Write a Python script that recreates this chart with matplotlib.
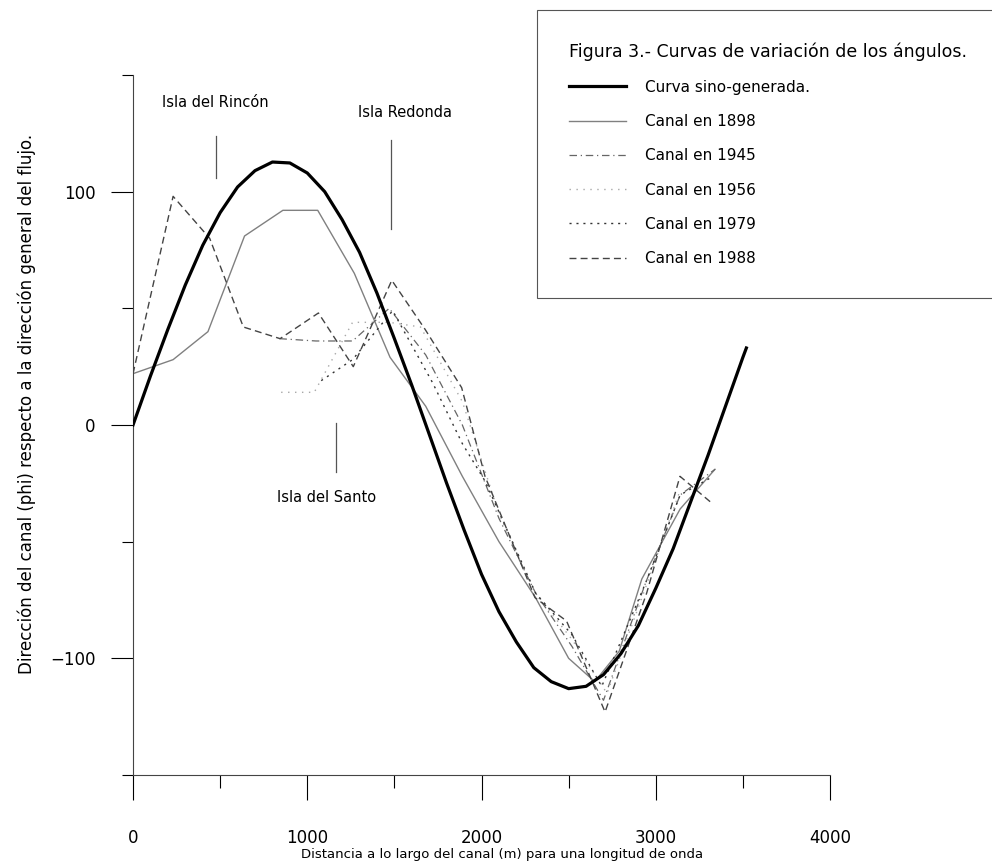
"""Figura 3 - Curvas de variación de los ángulos del canal"""
import matplotlib
matplotlib.use('Agg')
import matplotlib.pyplot as plt
from matplotlib.ticker import MultipleLocator

plt.rcParams['font.family'] = ['DejaVu Sans']

x_seno = [0, 100, 200, 300, 400, 500, 600, 700, 800, 900, 1000, 1100, 1200,
          1300, 1400, 1500, 1600, 1700, 1800, 1900, 2000, 2100, 2200, 2300,
          2400, 2500, 2600, 2700, 2800, 2900, 3000, 3100, 3200, 3300, 3400,
          3500, 3520]
y_seno = [0, 21, 41, 60, 77, 91, 102, 109, 112.7, 112.3, 108, 100, 88, 74,
          56.5, 37, 17, -4, -25, -45, -64, -80, -93, -104, -110, -113, -112,
          -107, -98, -86, -70, -53, -33, -13, 8, 29, 33]

# trazados del canal
x_1898 = [0, 230, 430, 640, 860, 1060, 1270, 1475, 1680, 1890, 2100, 2310,
          2500, 2650, 2790, 2920, 3140, 3340]
y_1898 = [22, 28, 40, 81, 92, 92, 65, 29, 8, -22, -50, -74, -100, -110, -97,
          -66, -36, -19]

x_1945 = [840, 1050, 1260, 1470, 1680, 1890, 2100, 2310, 2520, 2700, 2940,
          3140, 3340]
y_1945 = [37, 36, 36, 50, 30, 0, -40, -72, -95, -118, -68, -30, -19]

x_1956 = [850, 1040, 1260, 1470, 1650, 1890, 2100, 2310, 2520, 2720, 2940,
          3140]
y_1956 = [14, 14, 44, 44, 42, 10, -38, -72, -92, -115, -70, -28]

x_1979 = [1080, 1260, 1490, 1720, 1890, 2020, 2310, 2520, 2690, 2940, 3140,
          3330]
y_1979 = [19, 28, 49, 18, -8, -24, -72, -90, -112, -68, -30, -22]

x_1988 = [0, 230, 440, 633, 844, 1064, 1264, 1485, 1676, 1886, 2020, 2307,
          2488, 2709, 2948, 3139, 3330]
y_1988 = [22, 98, 80, 42, 37, 48, 25, 62, 41, 16, -22, -74, -84, -123, -72,
          -22, -34]

# islas: (texto, x texto, y texto, x marca, y0 marca, y1 marca)
islas = [
    ('Isla del Rincón', 470, 138, 478, 106, 124),
    ('Isla Redonda', 1560, 134, 1478, 84, 122),
    ('Isla del Santo', 1110, -31, 1165, -20, 1),
]

fig = plt.figure(figsize=(9.92, 8.63), dpi=100)
ax = fig.add_axes([0.1341, 0.1020, 0.7026, 0.8111])

ax.plot(x_seno, y_seno, color='black', linewidth=2.3, solid_joinstyle='round',
        label='Curva sino-generada.', zorder=5)
ax.plot(x_1898, y_1898, color='#808080', linewidth=1.0, label='Canal en 1898')
ax.plot(x_1945, y_1945, color='#666666', linewidth=0.9,
        linestyle=(0, (6, 3, 1, 3)), label='Canal en 1945')
ax.plot(x_1956, y_1956, color='#a8a8a8', linewidth=1.0,
        linestyle=(0, (1, 4)), label='Canal en 1956')
ax.plot(x_1979, y_1979, color='#333333', linewidth=1.0,
        linestyle=(0, (1.5, 3.5)), label='Canal en 1979')
ax.plot(x_1988, y_1988, color='#444444', linewidth=1.0,
        linestyle=(0, (5, 3)), label='Canal en 1988')

for texto, xt, yt, xm, y0, y1 in islas:
    ax.text(xt, yt, texto, fontsize=10.5, ha='center', va='center')
    ax.plot([xm, xm], [y0, y1], color='#555555', linewidth=0.9)

ax.set_xlim(0, 4000)
ax.set_ylim(-150, 150)
ax.spines['top'].set_visible(False)
ax.spines['right'].set_visible(False)
for s in ['left', 'bottom']:
    ax.spines[s].set_color('#444444')
    ax.spines[s].set_linewidth(0.8)

ax.xaxis.set_major_locator(MultipleLocator(1000))
ax.xaxis.set_minor_locator(MultipleLocator(500))
ax.yaxis.set_major_locator(MultipleLocator(100))
ax.yaxis.set_minor_locator(MultipleLocator(50))
ax.tick_params(axis='x', which='major', direction='out', length=18, width=0.8,
               pad=21, labelsize=12)
ax.tick_params(axis='x', which='minor', direction='out', length=9, width=0.8)
ax.tick_params(axis='y', which='major', direction='out', length=16, width=0.8,
               pad=11, labelsize=12)
ax.tick_params(axis='y', which='minor', direction='out', length=8, width=0.8)

ax.set_xlabel('Distancia a lo largo del canal (m) para una longitud de onda',
              fontsize=9.5)
ax.xaxis.set_label_coords(0.53, -0.104)
ax.set_ylabel('Dirección del canal (phi) respecto a la dirección general del flujo.',
              fontsize=12)
ax.yaxis.set_label_coords(-0.139, 0.53)

leg = fig.legend(loc='upper left', bbox_to_anchor=(537/992, 1-10/863, 470/992, 0),
                 mode='expand', borderaxespad=0, borderpad=2.1,
                 title='Figura 3.- Curvas de variación de los ángulos.',
                 title_fontsize=12.5, fontsize=11, alignment='left',
                 handlelength=3.7, handletextpad=1.3, labelspacing=1.26,
                 frameon=True, fancybox=False, framealpha=1)
leg.get_frame().set_edgecolor('#555555')
leg.get_frame().set_linewidth(0.8)

plt.savefig('out.png', dpi=100)
plt.close()
